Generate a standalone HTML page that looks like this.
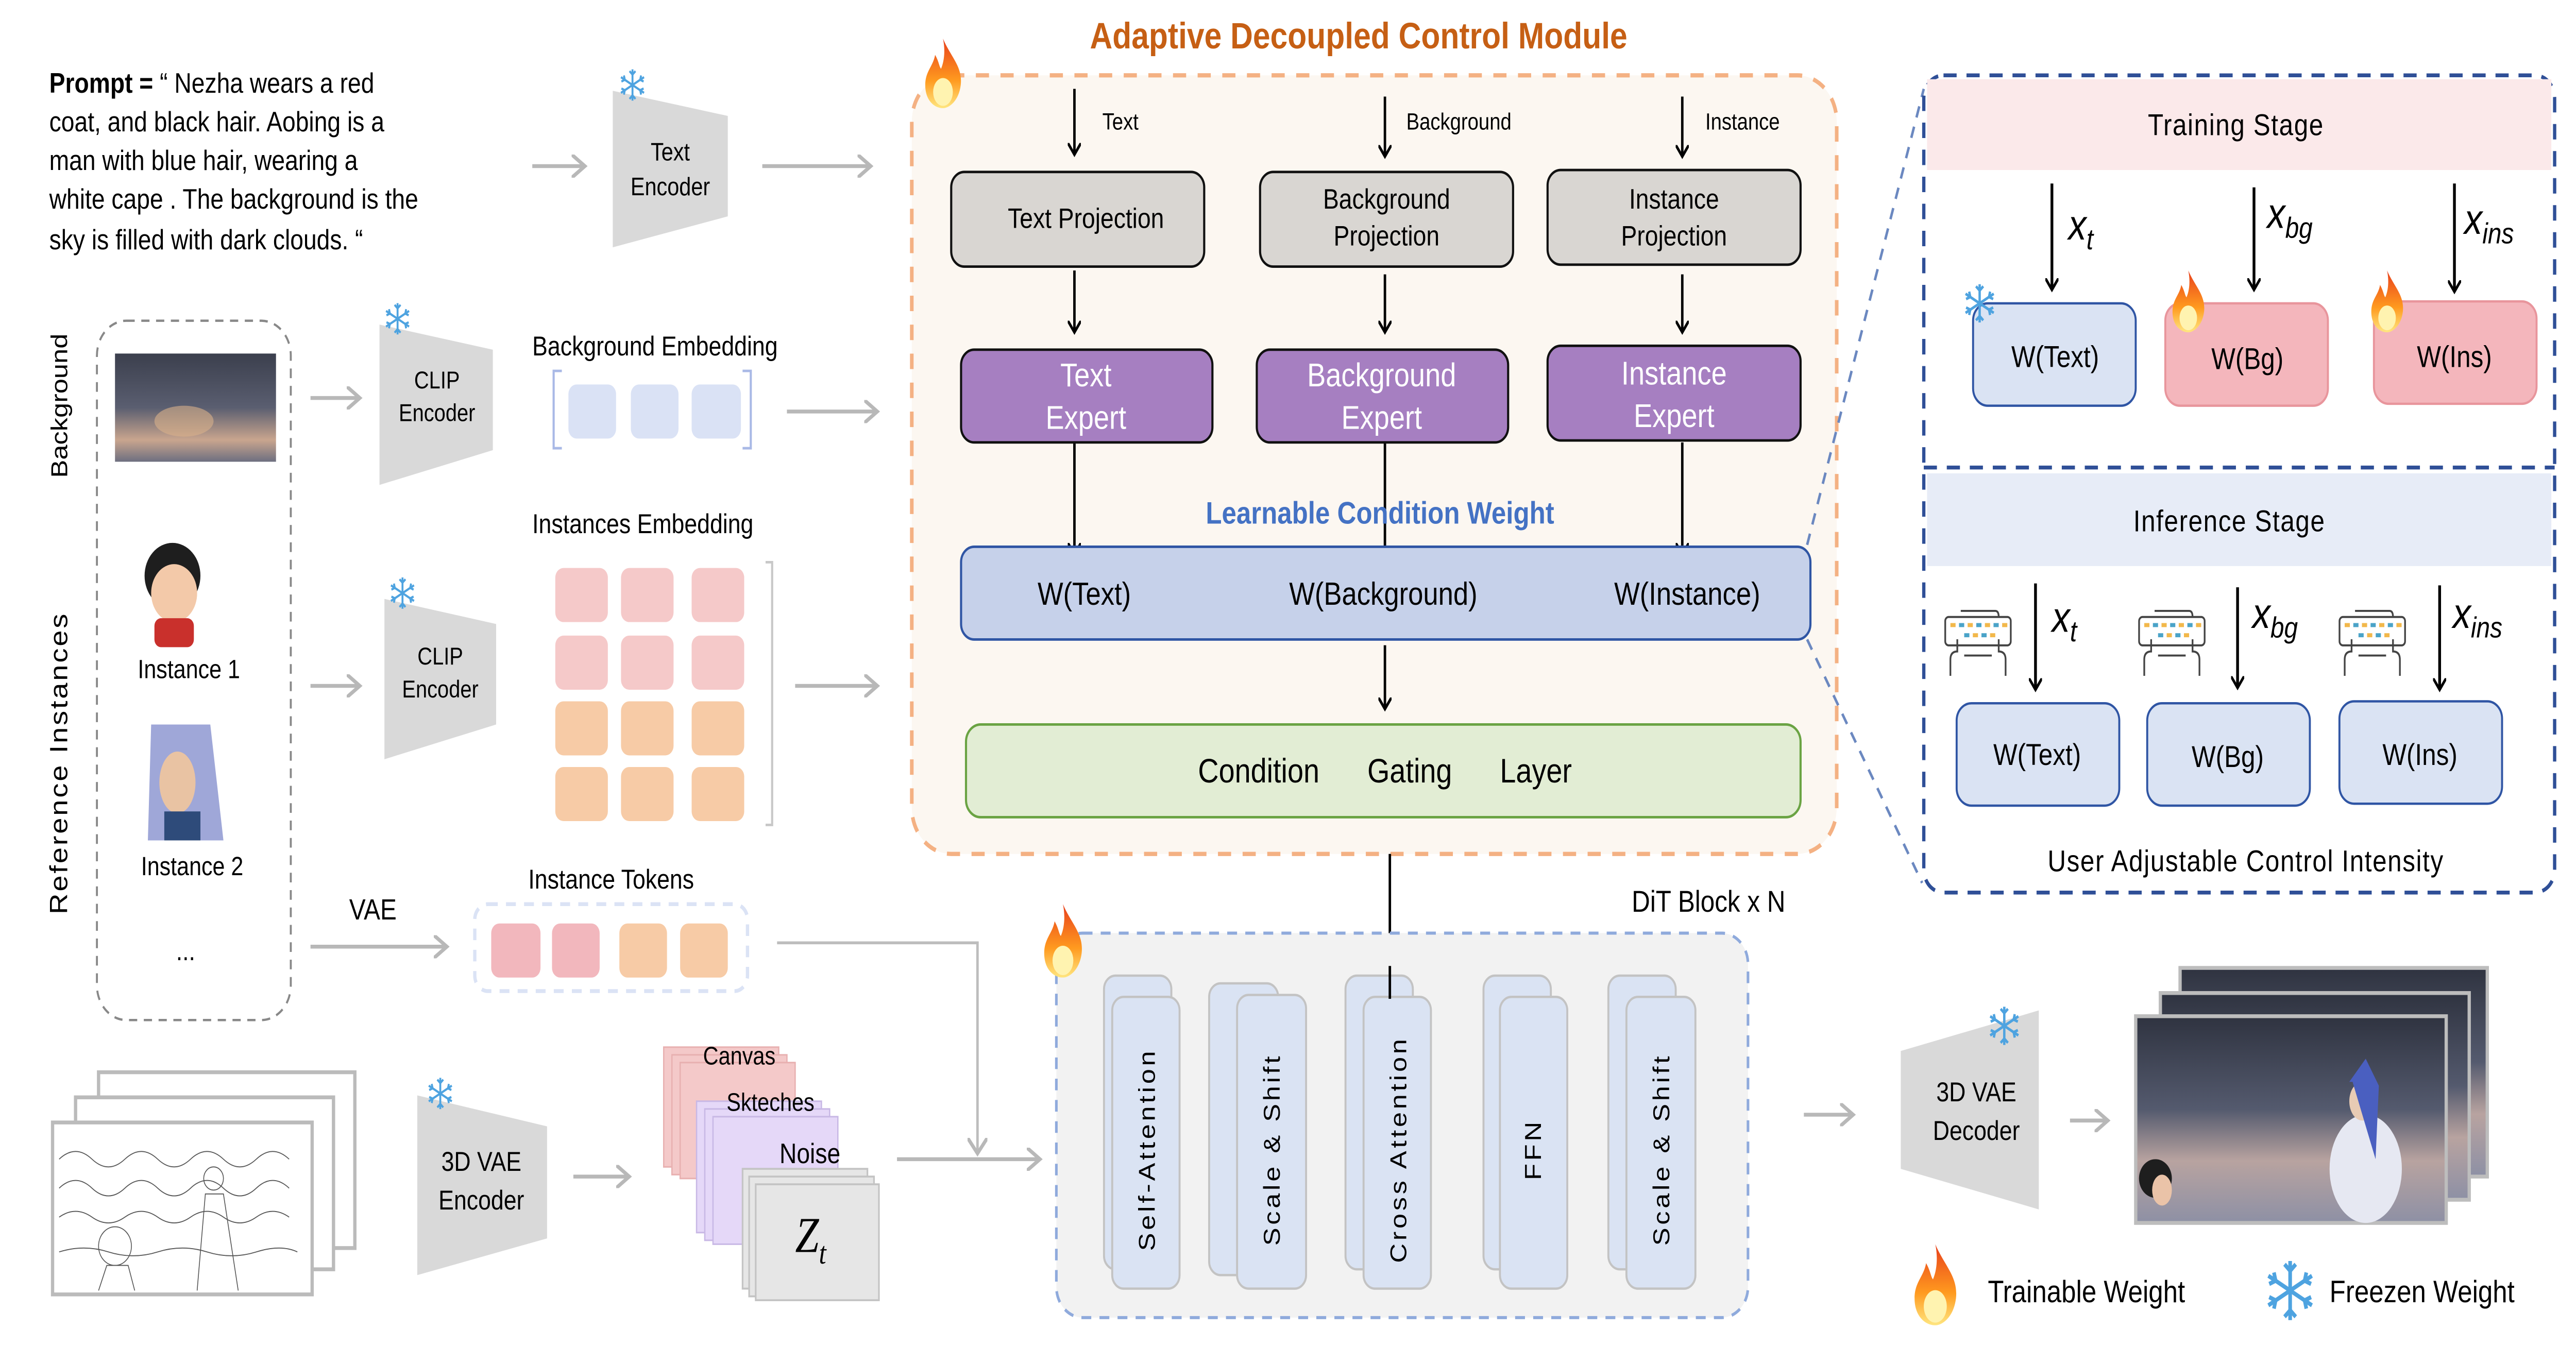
<!DOCTYPE html>
<html><head><meta charset="utf-8"><style>
html,body{margin:0;padding:0;background:#fff;overflow:hidden;width:100vw;height:100vh;}
svg{display:block;width:100vw;height:100vh;}
text{font-family:"Liberation Sans",sans-serif;}
.serif{font-family:"Liberation Serif",serif;font-style:italic;}
</style></head><body>
<svg viewBox="0 0 1568 696.7" preserveAspectRatio="none" xmlns="http://www.w3.org/2000/svg">
<defs>
<marker id="ab" markerWidth="8" markerHeight="8" refX="6" refY="4" orient="auto" markerUnits="userSpaceOnUse"><path d="M0,0 L6,4 L0,8" fill="none" stroke="#000" stroke-width="1.5"/></marker>
<marker id="ag" markerWidth="10" markerHeight="12" refX="8" refY="6" orient="auto" markerUnits="userSpaceOnUse"><path d="M0,0 L8,6 L0,12" fill="none" stroke="#b8b8b8" stroke-width="2"/></marker>
<linearGradient id="fl" x1="0" y1="1" x2="0" y2="0"><stop offset="0" stop-color="#ffe680"/><stop offset="0.4" stop-color="#ff9a1f"/><stop offset="1" stop-color="#e8401c"/></linearGradient>
<symbol id="flame" viewBox="0 0 20 30"><path d="M10,0 C14,8 20,12 19,20 C18,27 13,30 10,30 C6,30 1,27 1,20 C1,14 5,12 6,7 C8,10 8,12 9,13 C11,9 11,4 10,0Z" fill="url(#fl)"/><ellipse cx="10" cy="23" rx="5" ry="6" fill="#fff3b0"/></symbol>
<symbol id="snow" viewBox="-10 -10 20 20"><g stroke="#4ea3e0" stroke-width="1.3" fill="none"><line x1="0" y1="-9" x2="0" y2="9"/><line x1="-7.8" y1="-4.5" x2="7.8" y2="4.5"/><line x1="-7.8" y1="4.5" x2="7.8" y2="-4.5"/><path d="M-2,-8 L0,-6 L2,-8 M-2,8 L0,6 L2,8 M-7.5,-2 L-5.2,-3 L-5.8,-5.5 M7.5,2 L5.2,3 L5.8,5.5 M-7.5,2 L-5.2,3 L-5.8,5.5 M7.5,-2 L5.2,-3 L5.8,-5.5"/></g></symbol>
<symbol id="kb" viewBox="0 0 40 36"><g fill="none" stroke="#444" stroke-width="1"><path d="M10,2 H30 Q32,2 32,5"/><rect x="1" y="5" width="38" height="14" rx="2"/><line x1="12" y1="24" x2="28" y2="24"/><path d="M4,34 V26 Q4,22 8,22 V16 M36,34 V26 Q36,22 32,22 V16"/></g><g fill="#f2b84b"><rect x="4" y="8" width="3" height="2"/><rect x="14" y="8" width="3" height="2"/><rect x="24" y="8" width="3" height="2"/><rect x="34" y="8" width="3" height="2"/><rect x="17" y="13" width="3" height="2"/><rect x="27" y="13" width="3" height="2"/></g><g fill="#4aa3c8"><rect x="9" y="8" width="3" height="2"/><rect x="19" y="8" width="3" height="2"/><rect x="29" y="8" width="3" height="2"/><rect x="12" y="13" width="3" height="2"/><rect x="22" y="13" width="3" height="2"/></g></symbol>
<linearGradient id="sky" x1="0" y1="0" x2="0" y2="1"><stop offset="0" stop-color="#3b3f4d"/><stop offset="0.5" stop-color="#5a5e70"/><stop offset="0.8" stop-color="#c9a58e"/><stop offset="1" stop-color="#6d6f80"/></linearGradient>
<linearGradient id="sky2" x1="0" y1="0" x2="0" y2="1"><stop offset="0" stop-color="#2f3340"/><stop offset="0.45" stop-color="#545a6e"/><stop offset="0.7" stop-color="#b8a3a0"/><stop offset="1" stop-color="#8d90a5"/></linearGradient>
</defs>

<!-- Prompt -->
<g font-size="14.5" fill="#000">
<text x="30" y="48"><tspan font-weight="bold">Prompt =</tspan> “ Nezha wears a red</text>
<text x="30" y="68">coat, and black hair. Aobing is a</text>
<text x="30" y="88">man with blue hair, wearing a</text>
<text x="30" y="108">white cape . The background is the</text>
<text x="30" y="129">sky is filled with dark clouds. “</text>
</g>
<line x1="324" y1="86" x2="356" y2="86" stroke="#b8b8b8" stroke-width="2" marker-end="url(#ag)"/>
<path d="M373,47 L443,60 L443,112 L373,128Z" fill="#d9d9d9"/>
<use href="#snow" x="376" y="35" width="18" height="18"/>
<text x="408" y="83" font-size="13" text-anchor="middle">Text</text>
<text x="408" y="101" font-size="13" text-anchor="middle">Encoder</text>
<line x1="464" y1="86" x2="530" y2="86" stroke="#b8b8b8" stroke-width="2" marker-end="url(#ag)"/>

<!-- left ref column -->
<text transform="translate(41,210) rotate(-90)" font-size="14" text-anchor="middle">Background</text>
<text transform="translate(41,395) rotate(-90)" font-size="15" text-anchor="middle" letter-spacing="1">Reference Instances</text>
<rect x="59" y="166" width="118" height="362" rx="18" fill="none" stroke="#888" stroke-width="1.2" stroke-dasharray="5,4"/>
<rect x="70" y="183" width="98" height="56" fill="url(#sky)"/>
<ellipse cx="112" cy="218" rx="18" ry="8" fill="#d8b08a" opacity="0.6"/>
<circle cx="105" cy="298" r="17" fill="#1e1e1e"/>
<ellipse cx="106" cy="307" rx="14" ry="15" fill="#f3c9a9"/>
<rect x="94" y="320" width="24" height="15" rx="4" fill="#c9302c"/>
<text x="115" y="351" font-size="13.5" text-anchor="middle">Instance 1</text>
<path d="M92,375 L128,375 L136,435 L90,435Z" fill="#9fa7d8"/>
<ellipse cx="108" cy="405" rx="11" ry="16" fill="#e9c3a3"/>
<rect x="100" y="420" width="22" height="15" fill="#2e4b7a"/>
<text x="117" y="453" font-size="13.5" text-anchor="middle">Instance 2</text>
<text x="113" y="497" font-size="14" text-anchor="middle">...</text>

<!-- CLIP 1 -->
<line x1="189" y1="206" x2="219" y2="206" stroke="#b8b8b8" stroke-width="2" marker-end="url(#ag)"/>
<path d="M231,168 L300,181 L300,233 L231,251Z" fill="#d9d9d9"/>
<use href="#snow" x="233" y="156" width="18" height="18"/>
<text x="266" y="201" font-size="12.5" text-anchor="middle">CLIP</text>
<text x="266" y="218" font-size="12.5" text-anchor="middle">Encoder</text>
<text x="324" y="184" font-size="14">Background Embedding</text>
<path d="M342,192 H337 V232 H342 M452,192 H457 V232 H452" fill="none" stroke="#a9b9e6" stroke-width="1.3"/>
<rect x="346" y="199" width="29" height="28" rx="5" fill="#dae2f5"/>
<rect x="384" y="199" width="29" height="28" rx="5" fill="#dae2f5"/>
<rect x="421" y="199" width="30" height="28" rx="5" fill="#dae2f5"/>
<line x1="479" y1="213" x2="534" y2="213" stroke="#b8b8b8" stroke-width="2" marker-end="url(#ag)"/>

<!-- CLIP 2 -->
<line x1="189" y1="355" x2="219" y2="355" stroke="#b8b8b8" stroke-width="2" marker-end="url(#ag)"/>
<path d="M234,310 L302,323 L302,375 L234,393Z" fill="#d9d9d9"/>
<use href="#snow" x="236" y="298" width="18" height="18"/>
<text x="268" y="344" font-size="12.5" text-anchor="middle">CLIP</text>
<text x="268" y="361" font-size="12.5" text-anchor="middle">Encoder</text>
<text x="324" y="276" font-size="14">Instances Embedding</text>
<g fill="#f5c9c9">
<rect x="338" y="294" width="32" height="28" rx="5"/><rect x="378" y="294" width="32" height="28" rx="5"/><rect x="421" y="294" width="32" height="28" rx="5"/>
<rect x="338" y="329" width="32" height="28" rx="5"/><rect x="378" y="329" width="32" height="28" rx="5"/><rect x="421" y="329" width="32" height="28" rx="5"/>
</g>
<g fill="#f7cba6">
<rect x="338" y="363" width="32" height="28" rx="5"/><rect x="378" y="363" width="32" height="28" rx="5"/><rect x="421" y="363" width="32" height="28" rx="5"/>
<rect x="338" y="397" width="32" height="28" rx="5"/><rect x="378" y="397" width="32" height="28" rx="5"/><rect x="421" y="397" width="32" height="28" rx="5"/>
</g>
<path d="M466,291 H470 V427 H466" fill="none" stroke="#c8c8c8" stroke-width="1.3"/>
<line x1="484" y1="355" x2="534" y2="355" stroke="#b8b8b8" stroke-width="2" marker-end="url(#ag)"/>

<!-- VAE tokens -->
<text x="227" y="476" font-size="15" text-anchor="middle">VAE</text>
<line x1="189" y1="490" x2="272" y2="490" stroke="#b8b8b8" stroke-width="2" marker-end="url(#ag)"/>
<text x="372" y="460" font-size="14" text-anchor="middle">Instance Tokens</text>
<rect x="289" y="468" width="166" height="45" rx="8" fill="none" stroke="#dbe3f5" stroke-width="2" stroke-dasharray="6,5"/>
<rect x="299" y="478" width="30" height="28" rx="5" fill="#f2b7bd"/>
<rect x="336" y="478" width="29" height="28" rx="5" fill="#f2b7bd"/>
<rect x="377" y="478" width="29" height="28" rx="5" fill="#f7cba6"/>
<rect x="414" y="478" width="29" height="28" rx="5" fill="#f7cba6"/>
<path d="M473,488 H595 V597" fill="none" stroke="#bdbdbd" stroke-width="1.5" marker-end="url(#ag)"/>

<!-- sketches -->
<g stroke="#bbb" stroke-width="2" fill="#fff">
<rect x="60" y="555" width="156" height="91"/>
<rect x="46" y="568" width="157" height="89"/>
<rect x="32" y="581" width="158" height="89"/>
</g>
<g stroke="#555" stroke-width="0.5" fill="none">
<path d="M36,600 q10,-8 20,0 t20,0 t20,0 t20,0 t20,0 t20,0 t20,0"/>
<path d="M36,615 q10,-8 20,0 t20,0 t20,0 t20,0 t20,0 t20,0 t20,0"/>
<path d="M36,630 q10,-6 20,0 t20,0 t20,0 t20,0 t20,0 t20,0 t20,0"/>
<path d="M36,648 q15,-4 30,0 t30,0 t30,0 t30,0 t25,0"/>
<circle cx="70" cy="645" r="10"/><path d="M60,668 L65,655 L78,655 L82,668"/>
<circle cx="130" cy="610" r="6"/><path d="M120,668 L125,618 L136,618 L145,668"/>
</g>
<path d="M254,567 L333,583 L333,641 L254,660Z" fill="#d9d9d9"/>
<use href="#snow" x="259" y="557" width="18" height="18"/>
<text x="293" y="606" font-size="14" text-anchor="middle">3D VAE</text>
<text x="293" y="626" font-size="14" text-anchor="middle">Encoder</text>
<line x1="349" y1="609" x2="383" y2="609" stroke="#b8b8b8" stroke-width="2" marker-end="url(#ag)"/>
<!-- canvas stack -->
<g fill="#f4c9c9" stroke="#e8b0b0" stroke-width="0.8">
<rect x="404" y="542" width="70" height="62"/><rect x="409" y="546" width="70" height="62"/><rect x="414" y="550" width="70" height="60"/>
</g>
<g fill="#e5d8f8" stroke="#c8b8e5" stroke-width="0.8">
<rect x="424" y="570" width="76" height="68"/><rect x="429" y="574" width="76" height="68"/><rect x="434" y="578" width="76" height="66"/>
</g>
<g fill="#e6e6e6" stroke="#c4c4c4" stroke-width="1">
<rect x="452" y="605" width="76" height="62"/><rect x="456" y="609" width="76" height="62"/><rect x="460" y="613" width="75" height="60"/>
</g>
<text x="450" y="551" font-size="13" text-anchor="middle">Canvas</text>
<text x="469" y="575" font-size="13" text-anchor="middle">Skteches</text>
<text x="493" y="602" font-size="14.5" text-anchor="middle">Noise</text>
<text x="484" y="648" font-size="26" class="serif">Z<tspan font-size="16" dy="6">t</tspan></text>
<line x1="546" y1="600" x2="633" y2="600" stroke="#b8b8b8" stroke-width="2" marker-end="url(#ag)"/>

<!-- Adaptive module -->
<text x="827" y="25" font-size="19" font-weight="bold" fill="#c65f14" text-anchor="middle">Adaptive Decoupled Control Module</text>
<rect x="555" y="39" width="563" height="403" rx="24" fill="#fcf7f1" stroke="#f4b183" stroke-width="2.2" stroke-dasharray="8,7"/>
<use href="#flame" x="561" y="20" width="26" height="36"/>
<g stroke="#000" stroke-width="1.5" marker-end="url(#ab)">
<line x1="654" y1="46" x2="654" y2="80"/><line x1="843" y1="50" x2="843" y2="81"/><line x1="1024" y1="50" x2="1024" y2="81"/>
<line x1="654" y1="140" x2="654" y2="172"/><line x1="843" y1="142" x2="843" y2="172"/><line x1="1024" y1="142" x2="1024" y2="172"/>
<line x1="654" y1="229" x2="654" y2="287"/><line x1="843" y1="229" x2="843" y2="289"/><line x1="1024" y1="229" x2="1024" y2="287"/>
<line x1="843" y1="334" x2="843" y2="367"/>
</g>
<text x="671" y="67" font-size="12">Text</text>
<text x="856" y="67" font-size="12">Background</text>
<text x="1038" y="67" font-size="12">Instance</text>
<g fill="#d9d6d2" stroke="#111" stroke-width="1.3">
<rect x="579" y="89" width="154" height="49" rx="8"/>
<rect x="767" y="89" width="154" height="49" rx="8"/>
<rect x="942" y="88" width="154" height="49" rx="8"/>
</g>
<text x="661" y="118" font-size="14.5" text-anchor="middle">Text Projection</text>
<text x="844" y="108" font-size="14.5" text-anchor="middle">Background</text>
<text x="844" y="127" font-size="14.5" text-anchor="middle">Projection</text>
<text x="1019" y="108" font-size="14.5" text-anchor="middle">Instance</text>
<text x="1019" y="127" font-size="14.5" text-anchor="middle">Projection</text>
<g fill="#a67fc1" stroke="#111" stroke-width="1.3">
<rect x="585" y="181" width="153" height="48" rx="8"/>
<rect x="765" y="181" width="153" height="48" rx="8"/>
<rect x="942" y="179" width="154" height="49" rx="8"/>
</g>
<g fill="#fff" font-size="17" text-anchor="middle">
<text x="661" y="200">Text</text><text x="661" y="222">Expert</text>
<text x="841" y="200">Background</text><text x="841" y="222">Expert</text>
<text x="1019" y="199">Instance</text><text x="1019" y="221">Expert</text>
</g>
<text x="840" y="271" font-size="16" font-weight="bold" fill="#4472c4" text-anchor="middle">Learnable Condition Weight</text>
<rect x="585" y="283" width="517" height="48" rx="8" fill="#c6d1ea" stroke="#2f55a4" stroke-width="1.3"/>
<g font-size="16.5" text-anchor="middle">
<text x="660" y="313">W(Text)</text><text x="842" y="313">W(Background)</text><text x="1027" y="313">W(Instance)</text>
</g>
<rect x="588" y="375" width="508" height="48" rx="9" fill="#e2edd4" stroke="#6aa343" stroke-width="1.3"/>
<text x="843" y="405" font-size="17.5" text-anchor="middle" xml:space="preserve">Condition      Gating      Layer</text>
<line x1="846" y1="442" x2="846" y2="517" stroke="#000" stroke-width="1.5" marker-end="url(#ab)"/>

<!-- connectors to right panel -->
<line x1="1100" y1="282" x2="1171" y2="46" stroke="#6b88c0" stroke-width="1.5" stroke-dasharray="6,5"/>
<line x1="1100" y1="331" x2="1170" y2="457" stroke="#6b88c0" stroke-width="1.5" stroke-dasharray="6,5"/>

<!-- right panel -->
<rect x="1171" y="39" width="384" height="423" rx="12" fill="#fff" stroke="#2f4f97" stroke-width="2" stroke-dasharray="8,6"/>
<rect x="1173" y="41" width="380" height="47" fill="#fbe9ea"/>
<text x="1361" y="70" font-size="15.5" text-anchor="middle" letter-spacing="0.5">Training Stage</text>
<line x1="1171" y1="242" x2="1555" y2="242" stroke="#2f4f97" stroke-width="2" stroke-dasharray="8,6"/>
<rect x="1173" y="245" width="380" height="48" fill="#e7ecf7"/>
<text x="1357" y="275" font-size="15.5" text-anchor="middle" letter-spacing="0.5">Inference Stage</text>
<g stroke="#000" stroke-width="1.7" marker-end="url(#ab)">
<line x1="1249" y1="95" x2="1249" y2="150"/><line x1="1372" y1="97" x2="1372" y2="150"/><line x1="1494" y1="95" x2="1494" y2="151"/>
<line x1="1239" y1="302" x2="1239" y2="357"/><line x1="1362" y1="304" x2="1362" y2="356"/><line x1="1485" y1="303" x2="1485" y2="357"/>
</g>
<g font-size="22" class="serif">
<text x="1259" y="124">x<tspan font-size="15" dy="5">t</tspan></text>
<text x="1380" y="118">x<tspan font-size="15" dy="5">bg</tspan></text>
<text x="1500" y="121">x<tspan font-size="15" dy="5">ins</tspan></text>
<text x="1249" y="327">x<tspan font-size="15" dy="5">t</tspan></text>
<text x="1371" y="325">x<tspan font-size="15" dy="5">bg</tspan></text>
<text x="1493" y="325">x<tspan font-size="15" dy="5">ins</tspan></text>
</g>
<rect x="1201" y="157" width="99" height="53" rx="9" fill="#dae3f3" stroke="#2f55a4" stroke-width="1.2"/>
<rect x="1318" y="157" width="99" height="53" rx="9" fill="#f4b6bc" stroke="#e8959c" stroke-width="1.2"/>
<rect x="1445" y="156" width="99" height="53" rx="9" fill="#f4b6bc" stroke="#e8959c" stroke-width="1.2"/>
<g font-size="15.5" text-anchor="middle">
<text x="1251" y="190">W(Text)</text><text x="1368" y="191">W(Bg)</text><text x="1494" y="190">W(Ins)</text>
</g>
<use href="#snow" x="1194" y="146" width="22" height="22"/>
<use href="#flame" x="1320" y="140" width="24" height="32"/>
<use href="#flame" x="1441" y="140" width="24" height="32"/>
<use href="#kb" x="1183" y="312" width="42" height="42"/>
<use href="#kb" x="1301" y="312" width="42" height="42"/>
<use href="#kb" x="1423" y="312" width="42" height="42"/>
<rect x="1191" y="364" width="99" height="53" rx="9" fill="#dae3f3" stroke="#2f55a4" stroke-width="1.2"/>
<rect x="1307" y="364" width="99" height="53" rx="9" fill="#dae3f3" stroke="#2f55a4" stroke-width="1.2"/>
<rect x="1424" y="363" width="99" height="53" rx="9" fill="#dae3f3" stroke="#2f55a4" stroke-width="1.2"/>
<g font-size="15.5" text-anchor="middle">
<text x="1240" y="396">W(Text)</text><text x="1356" y="397">W(Bg)</text><text x="1473" y="396">W(Ins)</text>
</g>
<text x="1367" y="451" font-size="15.5" text-anchor="middle" letter-spacing="0.5">User Adjustable Control Intensity</text>

<!-- DiT block -->
<text x="1040" y="472" font-size="15.5" text-anchor="middle">DiT Block x N</text>
<rect x="643" y="483" width="421" height="199" rx="16" fill="#f2f2f2" stroke="#8faadc" stroke-width="1.6" stroke-dasharray="6,5"/>
<use href="#flame" x="634" y="468" width="26" height="38"/>
<g fill="#dae3f3" stroke="#c3c3c3" stroke-width="1.2">
<rect x="672" y="505" width="41" height="152" rx="7"/><rect x="677" y="516" width="41" height="151" rx="7"/>
<rect x="736" y="509" width="42" height="151" rx="7"/><rect x="753" y="515" width="42" height="152" rx="7"/>
<rect x="819" y="505" width="41" height="152" rx="7"/><rect x="830" y="516" width="41" height="151" rx="7"/>
<rect x="903" y="505" width="41" height="152" rx="7"/><rect x="913" y="516" width="41" height="151" rx="7"/>
<rect x="979" y="505" width="41" height="152" rx="7"/><rect x="990" y="516" width="42" height="151" rx="7"/>
</g>
<line x1="846" y1="500" x2="846" y2="517" stroke="#000" stroke-width="1.5"/>
<g font-size="14" text-anchor="middle" letter-spacing="1.5">
<text transform="translate(703,595) rotate(-90)">Self-Attention</text>
<text transform="translate(779,595) rotate(-90)">Scale &amp; Shift</text>
<text transform="translate(856,595) rotate(-90)">Cross Attention</text>
<text transform="translate(938,595) rotate(-90)">FFN</text>
<text transform="translate(1016,595) rotate(-90)">Scale &amp; Shift</text>
</g>

<!-- decoder -->
<line x1="1098" y1="577" x2="1128" y2="577" stroke="#b8b8b8" stroke-width="2" marker-end="url(#ag)"/>
<path d="M1157,544 L1241,523 L1241,626 L1157,605Z" fill="#d9d9d9"/>
<use href="#snow" x="1209" y="518" width="22" height="26"/>
<text x="1203" y="570" font-size="14" text-anchor="middle">3D VAE</text>
<text x="1203" y="590" font-size="14" text-anchor="middle">Decoder</text>
<line x1="1260" y1="580" x2="1283" y2="580" stroke="#b8b8b8" stroke-width="2" marker-end="url(#ag)"/>
<g stroke="#bdbdbd" stroke-width="2">
<rect x="1327" y="501" width="187" height="108" fill="url(#sky2)"/>
<rect x="1315" y="514" width="188" height="107" fill="url(#sky2)"/>
<rect x="1300" y="526" width="189" height="107" fill="url(#sky2)"/>
</g>
<ellipse cx="1440" cy="605" rx="22" ry="28" fill="#e6e8f2"/>
<ellipse cx="1438" cy="570" rx="8" ry="10" fill="#e8cbb4"/>
<path d="M1430,560 L1440,548 L1448,562 L1446,600 L1432,560Z" fill="#4a5fc0"/>
<circle cx="1312" cy="610" r="10" fill="#1e1e1e"/><ellipse cx="1316" cy="616" rx="6" ry="8" fill="#eac3a8"/>

<!-- legend -->
<use href="#flame" x="1164" y="644" width="28" height="42"/>
<text x="1210" y="674" font-size="16">Trainable Weight</text>
<use href="#snow" x="1377" y="650" width="34" height="36"/>
<text x="1418" y="674" font-size="16">Freezen Weight</text>
</svg>
</body></html>
